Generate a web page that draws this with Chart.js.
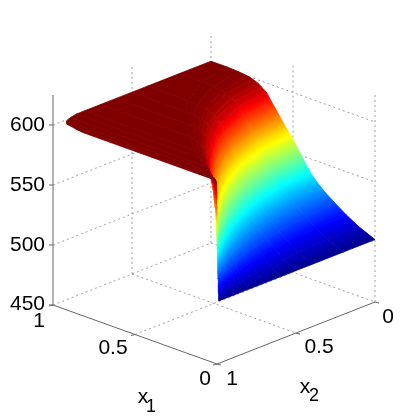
<!DOCTYPE html>
<html>
<head>
<meta charset="utf-8">
<style>
    body { margin: 0; background: #fff; }
    canvas { display: block; }
</style>
<script src="https://cdn.jsdelivr.net/npm/chart.js@4"></script>
</head>
<body>
<canvas id="surfaceChart" width="415" height="418"></canvas>
<script>
const zTicks = [450, 500, 550, 600];
const zTickLabels = ['450', '500', '550', '600'];
const x1Ticks = [1, 0.5, 0];
const x1TickLabels = ['1', '0.5', '0'];
const x2Ticks = [1, 0.5, 0];
const x2TickLabels = ['1', '0.5', '0'];

// surface: x1 where each z level sits, for each x2
const x2Values = [0, 0.2, 0.4, 0.5, 0.6, 0.7, 0.8, 0.85, 0.9, 0.94, 0.965, 0.98, 0.988];
const zLevels = [502, 508, 514, 520, 526, 532, 538, 544, 550, 556, 562, 568, 574, 580, 586, 592, 595, 597, 599, 600, 601, 601.5, 601.5];
const x1AtLevel = [
    [0, 0.1, 0.175, 0.24, 0.3, 0.35, 0.39, 0.42, 0.448, 0.478, 0.506, 0.54, 0.57, 0.6, 0.632, 0.66, 0.69, 0.71, 0.745, 0.77, 0.83, 0.9, 1],
    [0, 0.096, 0.168, 0.23, 0.288, 0.336, 0.374, 0.403, 0.43, 0.459, 0.486, 0.518, 0.547, 0.576, 0.607, 0.634, 0.662, 0.682, 0.715, 0.739, 0.797, 0.864, 1],
    [0, 0.084, 0.147, 0.202, 0.252, 0.294, 0.328, 0.353, 0.376, 0.402, 0.425, 0.454, 0.479, 0.504, 0.531, 0.554, 0.58, 0.596, 0.626, 0.647, 0.697, 0.756, 1],
    [0, 0.075, 0.131, 0.18, 0.225, 0.263, 0.293, 0.315, 0.336, 0.359, 0.38, 0.405, 0.428, 0.45, 0.474, 0.495, 0.518, 0.533, 0.559, 0.578, 0.623, 0.675, 1],
    [0, 0.064, 0.112, 0.154, 0.192, 0.224, 0.25, 0.269, 0.287, 0.306, 0.324, 0.346, 0.365, 0.384, 0.404, 0.422, 0.442, 0.454, 0.477, 0.493, 0.531, 0.576, 1],
    [0, 0.051, 0.089, 0.122, 0.153, 0.179, 0.199, 0.214, 0.228, 0.244, 0.258, 0.275, 0.291, 0.306, 0.322, 0.337, 0.352, 0.362, 0.38, 0.393, 0.423, 0.459, 1],
    [0, 0.036, 0.063, 0.086, 0.108, 0.126, 0.14, 0.151, 0.161, 0.172, 0.182, 0.194, 0.205, 0.216, 0.228, 0.238, 0.248, 0.256, 0.268, 0.277, 0.299, 0.324, 1],
    [0, 0.028, 0.049, 0.067, 0.084, 0.098, 0.109, 0.118, 0.125, 0.134, 0.142, 0.151, 0.16, 0.168, 0.177, 0.185, 0.193, 0.199, 0.209, 0.216, 0.232, 0.252, 1],
    [0, 0.019, 0.033, 0.046, 0.057, 0.067, 0.074, 0.08, 0.085, 0.091, 0.096, 0.103, 0.108, 0.114, 0.12, 0.125, 0.131, 0.135, 0.142, 0.146, 0.158, 0.171, 0.99],
    [0, 0.012, 0.021, 0.029, 0.036, 0.042, 0.047, 0.05, 0.054, 0.057, 0.061, 0.065, 0.068, 0.072, 0.076, 0.079, 0.083, 0.085, 0.089, 0.092, 0.1, 0.108, 0.975],
    [0, 0.007, 0.012, 0.017, 0.021, 0.025, 0.027, 0.029, 0.031, 0.033, 0.035, 0.038, 0.04, 0.042, 0.044, 0.046, 0.048, 0.05, 0.052, 0.054, 0.058, 0.063, 0.95],
    [0, 0.004, 0.007, 0.01, 0.012, 0.014, 0.016, 0.017, 0.018, 0.019, 0.02, 0.022, 0.023, 0.024, 0.025, 0.026, 0.028, 0.028, 0.03, 0.031, 0.033, 0.036, 0.88],
    [0, 0.002, 0.0035, 0.005, 0.006, 0.007, 0.008, 0.0084, 0.009, 0.0096, 0.0101, 0.0108, 0.0114, 0.012, 0.0126, 0.0132, 0.0138, 0.0142, 0.0149, 0.0154, 0.0166, 0.018, 0.83]
];

const zMin = 450;
const zTop = 625;
const colorMin = 501;
const colorMax = 601.5;

// orthographic view of the box, result is in the chart's x/y scale units
function project(x1, x2, z) {
    return {
        x: 217 - 164 * x1 + 158 * (1 - x2),
        y: 364 - 59 * x1 - 62 * (1 - x2) - 1.2 * (z - zMin)
    };
}

function jet(z) {
    const v = Math.min(1, Math.max(0, (z - colorMin) / (colorMax - colorMin)));
    const ch = (c) => Math.round(255 * Math.min(1, Math.max(0, 1.5 - Math.abs(4 * v - c))));
    return `rgb(${ch(3)},${ch(2)},${ch(1)})`;
}

// colour runs across the cell, from one z level to the next
function cellPaint(chart, r, c) {
    const z0 = zLevels[c];
    const z1 = zLevels[c + 1];
    if (z0 === z1) return jet(z0);
    const px = (x1, x2, z) => {
        const p = project(x1, x2, z);
        return { x: chart.scales.x.getPixelForValue(p.x), y: chart.scales.y.getPixelForValue(p.y) };
    };
    const a = px(x1AtLevel[r][c], x2Values[r], z0);
    const b = px(x1AtLevel[r + 1][c], x2Values[r + 1], z0);
    const d = px(x1AtLevel[r][c + 1], x2Values[r], z1);
    const e = px(x1AtLevel[r + 1][c + 1], x2Values[r + 1], z1);
    if (!isFinite(a.x + a.y + b.x + b.y + d.x + d.y + e.x + e.y)) return jet(z0);
    const dirX = (b.x - a.x) + (e.x - d.x);
    const dirY = (b.y - a.y) + (e.y - d.y);
    const dirLen = Math.hypot(dirX, dirY) || 1;
    const nx = -dirY / dirLen;
    const ny = dirX / dirLen;
    const x0 = (a.x + b.x) / 2;
    const y0 = (a.y + b.y) / 2;
    const len = ((d.x + e.x) / 2 - x0) * nx + ((d.y + e.y) / 2 - y0) * ny;
    const g = chart.ctx.createLinearGradient(x0, y0, x0 + nx * len + 0.01, y0 + ny * len + 0.01);
    for (let i = 0; i <= 4; i++) {
        g.addColorStop(i / 4, jet(z0 + (z1 - z0) * i / 4));
    }
    return g;
}

const datasets = [];

// first dataset ends up on top, so nearest cells go first
for (let r = x2Values.length - 2; r >= 0; r--) {
    for (let c = 0; c < zLevels.length - 1; c++) {
        datasets.push({
            data: [
                project(x1AtLevel[r][c], x2Values[r], zLevels[c]),
                project(x1AtLevel[r + 1][c], x2Values[r + 1], zLevels[c]),
                project(x1AtLevel[r + 1][c + 1], x2Values[r + 1], zLevels[c + 1]),
                project(x1AtLevel[r][c + 1], x2Values[r], zLevels[c + 1]),
                project(x1AtLevel[r][c], x2Values[r], zLevels[c])
            ],
            showLine: true,
            fill: 'shape',
            pointRadius: 0,
            borderWidth: 0.8,
            backgroundColor: (ctx) => cellPaint(ctx.chart, r, c),
            borderColor: (ctx) => cellPaint(ctx.chart, r, c)
        });
    }
}

function addLine(points, color, dash) {
    datasets.push({
        data: points,
        showLine: true,
        fill: false,
        pointRadius: 0,
        borderWidth: 1,
        borderColor: color,
        borderDash: dash
    });
}

const axisColor = '#666666';
const gridColor = '#a0a0a0';
const gridDash = [2, 3];

// box axes
addLine([project(1, 1, zMin), project(1, 1, zTop)], axisColor, []);
addLine([project(1, 1, zMin), project(0, 1, zMin)], axisColor, []);
addLine([project(0, 1, zMin), project(0, 0, zMin)], axisColor, []);

// walls and floor
zTicks.forEach((z) => {
    addLine([project(1, 1, z), project(1, 0, z)], gridColor, gridDash);
    addLine([project(1, 0, z), project(0, 0, z)], gridColor, gridDash);
});
x1Ticks.slice(0, 2).forEach((x1) => {
    addLine([project(x1, 0, zMin), project(x1, 0, zTop)], gridColor, gridDash);
});
addLine([project(0, 0, zMin), project(0, 0, zTop)], gridColor, gridDash);
addLine([project(1, 0.5, zMin), project(1, 0.5, zTop)], gridColor, gridDash);
addLine([project(0.5, 1, zMin), project(0.5, 0, zMin)], gridColor, gridDash);
addLine([project(1, 0.5, zMin), project(0, 0.5, zMin)], gridColor, gridDash);

const axisText = {
    id: 'axisText',
    afterDraw(chart) {
        const { ctx, scales } = chart;
        const put = (text, p, dx, dy, size) => {
            ctx.font = `${size}px "Liberation Sans", Arial, sans-serif`;
            ctx.fillText(text, scales.x.getPixelForValue(p.x) + dx, scales.y.getPixelForValue(p.y) + dy);
        };
        const tick = (p, dx, dy) => {
            const x = scales.x.getPixelForValue(p.x);
            const y = scales.y.getPixelForValue(p.y);
            ctx.beginPath();
            ctx.moveTo(x, y);
            ctx.lineTo(x + dx, y + dy);
            ctx.stroke();
        };
        ctx.save();
        ctx.fillStyle = '#000';
        ctx.strokeStyle = axisColor;
        ctx.lineWidth = 1;
        ctx.textBaseline = 'middle';

        ctx.textAlign = 'right';
        zTicks.forEach((z, i) => {
            put(zTickLabels[i], project(1, 1, z), -8, z === zMin ? -1 : 0, 21);
            tick(project(1, 1, z), -4, 0);
        });

        ctx.textAlign = 'center';
        const x1Offsets = [[-14, 16], [-22, 14], [-12, 15]];
        x1Ticks.forEach((x1, i) => {
            put(x1TickLabels[i], project(x1, 1, zMin), x1Offsets[i][0], x1Offsets[i][1], 21);
            tick(project(x1, 1, zMin), -4, 1);
        });
        const x2Offsets = [[15, 15], [23, 14], [13, 15]];
        x2Ticks.forEach((x2, i) => {
            put(x2TickLabels[i], project(0, x2, zMin), x2Offsets[i][0], x2Offsets[i][1], 21);
            tick(project(0, x2, zMin), 4, 1);
        });

        put('x', project(0.5, 1, zMin), 8, 63, 21);
        put('1', project(0.5, 1, zMin), 16, 73, 18);
        put('x', project(0, 0.5, zMin), 9, 54, 21);
        put('2', project(0, 0.5, zMin), 18, 63, 18);
        ctx.restore();
    }
};

new Chart(document.getElementById('surfaceChart').getContext('2d'), {
    type: 'scatter',
    data: { datasets: datasets },
    options: {
        responsive: false,
        animation: false,
        events: [],
        layout: { padding: 0 },
        elements: { line: { tension: 0 } },
        plugins: { legend: { display: false }, tooltip: { enabled: false } },
        scales: {
            x: { type: 'linear', display: false, min: 0, max: 415 },
            y: { type: 'linear', display: false, min: 0, max: 418, reverse: true }
        }
    },
    plugins: [axisText]
});
</script>
</body>
</html>
